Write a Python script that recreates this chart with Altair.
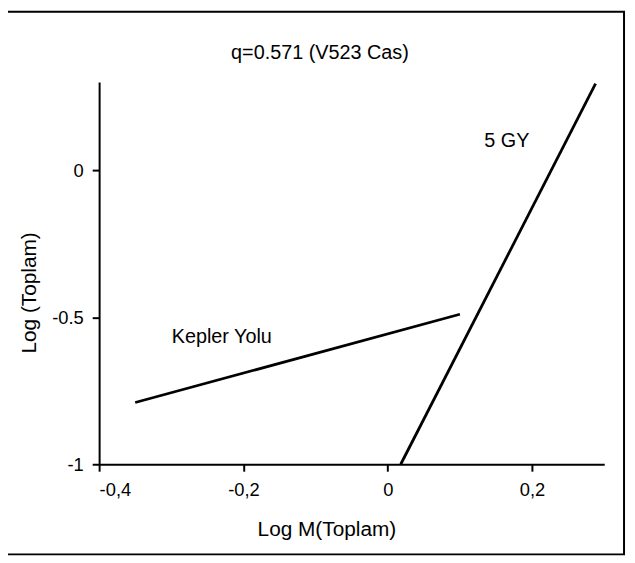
import altair as alt
import pandas as pd

# Data
kepler_x = [-0.35, 0.10]
kepler_y = [-0.79, -0.49]
gy_x = [0.018, 0.288]
gy_y = [-1.0, 0.294]

x_ticks = [-0.4, -0.2, 0.0, 0.2]
y_ticks = [-1.0, -0.5, 0.0]

title_text = "q=0.571 (V523 Cas)"
x_title = "Log M(Toplam)"
y_title = "Log (Toplam)"
ann_labels = ["Kepler Yolu", "5 GY"]
ann_x = [-0.23, 0.165]
ann_y = [-0.566, 0.098]

FONT = "Liberation Sans"

lines_df = pd.DataFrame({
    "x": kepler_x + gy_x,
    "y": kepler_y + gy_y,
    "s": ["Kepler"] * len(kepler_x) + ["GY"] * len(gy_x),
})
ann_df = pd.DataFrame({"x": ann_x, "y": ann_y, "t": ann_labels})

xs = alt.Scale(domain=[-0.4, 0.3], nice=False, zero=False)
ys = alt.Scale(domain=[-1.0, 0.3], nice=False, zero=False)

x_lab = "datum.value == 0 ? '0' : (datum.value < 0 ? '-' : '') + replace(format(abs(datum.value), '.1f'), '.', ',')"
y_lab = "datum.value == 0 ? '0' : (datum.value < 0 ? '-' : '') + format(abs(datum.value), '~g')"

lines = alt.Chart(lines_df).mark_line(color="black", strokeWidth=2.8).encode(
    x=alt.X("x:Q", scale=xs, axis=alt.Axis(values=x_ticks, labelExpr=x_lab, title=None,
                                          grid=False, domainColor="black", domainWidth=2,
                                          tickColor="black", tickWidth=2, tickSize=7,
                                          labelFontSize=18.5, labelFont=FONT, labelColor="black",
                                          labelPadding=10)),
    y=alt.Y("y:Q", scale=ys, axis=alt.Axis(values=y_ticks, labelExpr=y_lab, title=None,
                                          grid=False, domainColor="black", domainWidth=2,
                                          tickColor="black", tickWidth=2, tickSize=7,
                                          labelFontSize=18.5, labelFont=FONT, labelColor="black",
                                          labelPadding=9)),
    detail="s:N",
)

ann = alt.Chart(ann_df).mark_text(font=FONT, fontSize=20, color="black").encode(
    x=alt.X("x:Q", scale=xs), y=alt.Y("y:Q", scale=ys), text="t:N"
)

one = pd.DataFrame({"t": [title_text]})
title = alt.Chart(one).mark_text(font=FONT, fontSize=20, color="black", baseline="middle").encode(
    x=alt.value(223), y=alt.value(-29), text="t:N")
xt = alt.Chart(pd.DataFrame({"t": [x_title]})).mark_text(font=FONT, fontSize=21, color="black", baseline="middle").encode(
    x=alt.value(230), y=alt.value(452), text="t:N")
yt = alt.Chart(pd.DataFrame({"t": [y_title]})).mark_text(font=FONT, fontSize=21, color="black", baseline="middle", angle=270).encode(
    x=alt.value(-70), y=alt.value(213), text="t:N")

frame = alt.Chart(pd.DataFrame({"a": [0]})).mark_rect(fill="transparent", stroke="black", strokeWidth=2).encode(
    x=alt.value(-93), x2=alt.value(530), y=alt.value(-71), y2=alt.value(477))

chart = alt.layer(frame, lines, ann, title, xt, yt).properties(
    width=510, height=386,
    autosize=alt.AutoSizeParams(type="none"),
    padding={"left": 92, "top": 72, "right": 23, "bottom": 94},
    background="white",
).configure_view(stroke=None)

chart.save("out.html", embed_options={"renderer": "svg", "actions": False})
